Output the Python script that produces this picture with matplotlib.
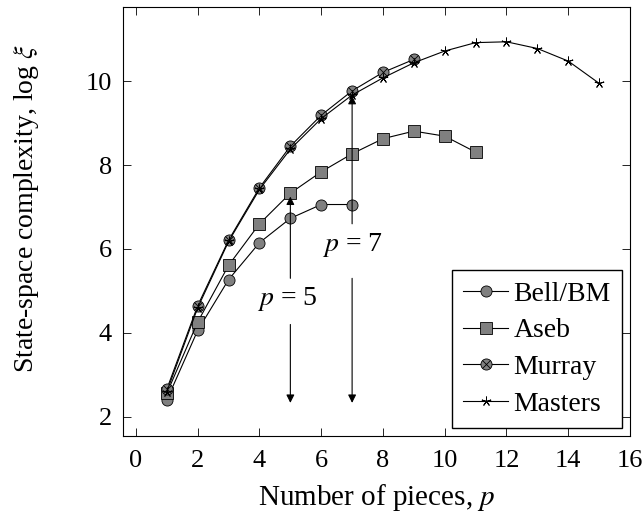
import matplotlib.pyplot as plt
from matplotlib.legend_handler import HandlerTuple

plt.rcParams["font.family"] = ["Liberation Serif", "DejaVu Serif"]
plt.rcParams["mathtext.fontset"] = "stix"

# Data
bell_x = [1, 2, 3, 4, 5, 6, 7]
bell_y = [2.40, 4.06, 5.27, 6.15, 6.73, 7.06, 7.06]

aseb_x = [1, 2, 3, 4, 5, 6, 7, 8, 9, 10, 11]
aseb_y = [2.56, 4.26, 5.61, 6.60, 7.33, 7.84, 8.27, 8.63, 8.81, 8.69, 8.31]

murray_x = [1, 2, 3, 4, 5, 6, 7, 8, 9]
murray_y = [2.66, 4.65, 6.21, 7.46, 8.45, 9.19, 9.77, 10.21, 10.52]

masters_x = [1, 2, 3, 4, 5, 6, 7, 8, 9, 10, 11, 12, 13, 14, 15]
masters_y = [2.60, 4.60, 6.18, 7.42, 8.38, 9.11, 9.67, 10.08, 10.44,
             10.72, 10.92, 10.94, 10.78, 10.48, 9.95]

# Annotation arrows: (x, y_from, y_to)
up_arrows = [(5, 5.30, 7.25), (7, 6.60, 9.65)]
down_arrows = [(5, 4.20, 2.33), (7, 5.30, 2.33)]
labels = [(4.9, 4.8, r"$p$ = 5"), (7.0, 6.1, r"$p$ = 7")]

gray = "#808080"
fs = 20

fig = plt.figure(figsize=(6.42, 5.21), dpi=100)
ax = fig.add_axes([0.1916, 0.1631, 0.7897, 0.8235])

l1, = ax.plot(bell_x, bell_y, color="black", lw=0.8, marker="o", ms=8,
              mfc=gray, mec="black", mew=0.6, zorder=3)
l2, = ax.plot(aseb_x, aseb_y, color="black", lw=0.8, marker="s", ms=8,
              mfc=gray, mec="black", mew=0.6, zorder=3)
l3a, = ax.plot(murray_x, murray_y, color="black", lw=0.8, marker="o", ms=8,
               mfc=gray, mec="black", mew=0.6, zorder=3)
l3b, = ax.plot(murray_x, murray_y, ls="none", marker="x", ms=5.5,
               mec="black", mew=0.6, zorder=4)
l4, = ax.plot(masters_x, masters_y, color="black", lw=0.8, marker=(5, 2, 0),
              ms=7, mec="black", mew=0.7, zorder=3)

for x, y0, y1 in up_arrows + down_arrows:
    ax.annotate("", xy=(x, y1), xytext=(x, y0),
                arrowprops=dict(arrowstyle="-|>", color="black", lw=0.8,
                                mutation_scale=12, shrinkA=0, shrinkB=0))
for x, y, t in labels:
    ax.text(x, y, t, fontsize=fs, ha="center", va="center")

ax.set_xlim(-0.42, 16.0)
ax.set_ylim(1.54, 11.77)
ax.set_xticks(range(0, 17, 2))
ax.set_yticks([2, 4, 6, 8, 10])
ax.tick_params(direction="in", top=True, right=True, labelsize=19, length=6,
               width=0.6)
ax.tick_params(axis="x", pad=10)
ax.tick_params(axis="y", pad=8)
for s in ax.spines.values():
    s.set_linewidth(0.8)

ax.set_xlabel(r"Number of pieces, $p$", fontsize=21, labelpad=7)
ax.set_ylabel(r"State-space complexity, log $\xi$", fontsize=20)
ax.yaxis.set_label_coords(-0.162, 0.53)

ax.legend([l1, l2, (l3a, l3b), l4], ["Bell/BM", "Aseb", "Murray", "Masters"],
          handler_map={tuple: HandlerTuple(ndivide=1)},
          loc="lower right", fontsize=fs, frameon=True, fancybox=False,
          edgecolor="black", framealpha=1, handlelength=1.6,
          borderpad=0.4, labelspacing=0.4, handletextpad=0.2,
          borderaxespad=0.3)

fig.savefig("out.png", dpi=100)
